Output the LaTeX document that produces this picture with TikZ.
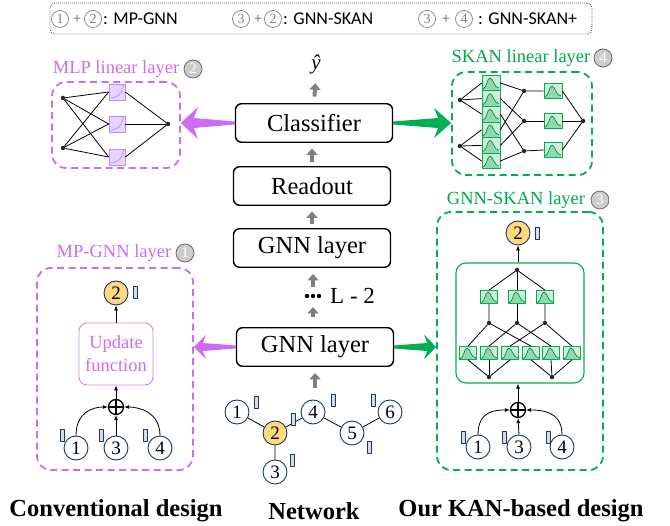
\documentclass[tikz,border=0pt]{standalone}
\usepackage{fontspec}
\setmainfont{Liberation Serif}
\newfontfamily\legfont{Carlito}
\usetikzlibrary{arrows.meta,calc}
\definecolor{mpurple}{HTML}{CC6CF5}
\definecolor{mlav}{HTML}{E6D6FF}
\definecolor{mlavline}{HTML}{C58AF2}
\definecolor{kgreen}{HTML}{00B050}
\definecolor{ktext}{HTML}{00A84F}
\definecolor{kfill}{HTML}{CDEFD9}
\definecolor{kcurve}{HTML}{8ED9AE}
\definecolor{navy}{HTML}{203864}
\definecolor{nodeyel}{HTML}{FFD980}
\definecolor{barfill}{HTML}{D6DCE5}
\definecolor{garrow}{HTML}{7F7F7F}
\newcommand\pp[1]{([shift={(#1)}]path picture bounding box.center)}
\newcommand\fatarrow[8]{%
  \coordinate (fah) at ($(#3)!#4!(#2)$);
  \coordinate (fan) at ($(#3)!#6!(#2)$);
  \fill[#1] (#3) -- ($(fah)!#5!90:(#3)$) -- ($(fan)!#7!90:(#3)$)
    -- ($(#2)!#8!90:(#3)$) -- ($(#2)!#8!-90:(#3)$)
    -- ($(fan)!#7!-90:(#3)$) -- ($(fah)!#5!-90:(#3)$) -- cycle;}
\begin{document}
\begin{tikzpicture}[x=1pt,y=-1pt,line join=round,
  blk/.style={draw, line width=1.4pt, rounded corners=6pt, minimum width=157pt, minimum height=38.5pt, inner sep=0, font=\fontsize{24.5}{28}\selectfont},
  garr/.style={draw=garrow, line width=4pt, -{Triangle[length=6.5pt,width=11pt]}},
  dpurple/.style={draw=mpurple, dash pattern=on 7pt off 4.5pt, line width=1.8pt, rounded corners=14pt, inner sep=0},
  dgreen/.style={draw=kgreen, dash pattern=on 7pt off 4.5pt, line width=1.8pt, rounded corners=14pt, inner sep=0},
  ttl/.style={inner sep=0, font=\fontsize{18.5}{20}\selectfont},
  badge/.style={circle, draw=gray!85!black, fill=gray!40, line width=0.8pt, minimum size=18pt, inner sep=0, text=white, font=\fontsize{15}{15}\selectfont},
  lc/.style={circle, draw=gray, line width=0.7pt, minimum size=17pt, inner sep=0, text=gray, font=\fontsize{14}{14}\selectfont},
  dot/.style={circle, fill=black!85, minimum size=4.5pt, inner sep=0},
  gn/.style={circle, draw=navy, fill=white, line width=0.9pt, minimum size=24pt, inner sep=0, font=\fontsize{19}{19}\selectfont},
  yn/.style={gn, fill=nodeyel},
  bar/.style={rectangle, draw=navy, fill=barfill, line width=0.7pt, minimum width=4pt, minimum height=12pt, inner sep=0},
  edge/.style={line width=0.8pt},
  sarr/.style={line width=0.8pt, -{Latex[length=5pt,width=4pt]}},
  oplus/.style={circle, draw, line width=1.3pt, minimum size=15pt, inner sep=0,
     path picture={\draw[line width=1.3pt] (path picture bounding box.north) -- (path picture bounding box.south) (path picture bounding box.west) -- (path picture bounding box.east);}},
  mbox/.style={rectangle, draw=mlavline, fill=mlav, line width=0.7pt, minimum size=16pt, inner sep=0,
     path picture={\draw[mlavline, line width=0.7pt] \pp{-8,6} .. controls \pp{1,6} and \pp{4,3} .. \pp{7,-8};}},
  kbox/.style 2 args={rectangle, draw=kgreen, fill=kfill, line width=0.7pt, minimum width=#1, minimum height=#2, inner sep=0,
     path picture={\fill[kcurve] \pp{-8,6} .. controls \pp{-4,5} and \pp{-4,-5} .. \pp{-1,-5} .. controls \pp{2,-5} and \pp{3,5} .. \pp{8,5} -- \pp{8,9} -- \pp{-8,9} -- cycle;
       \draw[kgreen!70!black, line width=0.6pt] \pp{-8,6} .. controls \pp{-4,5} and \pp{-4,-5} .. \pp{-1,-5} .. controls \pp{2,-5} and \pp{3,5} .. \pp{8,5};}},
]
\useasboundingbox (0,0) rectangle (670,526);
% ---------------- legend
\node[draw=gray!60!black, dash pattern=on 0.8pt off 1.2pt, line width=0.9pt, rounded corners=5pt, minimum width=542pt, minimum height=31pt, inner sep=0] (legend) at (321,18.5) {};
\node[lc] (la1) at (60,19) {1};
\node[text=gray, inner sep=0, font=\legfont\fontsize{15}{15}\selectfont] (lp1) at (77,19) {+};
\node[lc] (la2) at (93,19) {2};
\node[anchor=west, inner sep=0, font=\legfont\fontsize{18}{18}\selectfont] (lt1) at (103,19) {: MP-GNN};
\node[lc] (lb1) at (241,19) {3};
\node[text=gray, inner sep=0, font=\legfont\fontsize{15}{15}\selectfont] (lp2) at (258,19) {+};
\node[lc] (lb2) at (273,19) {2};
\node[anchor=west, inner sep=0, font=\legfont\fontsize{18}{18}\selectfont] (lt2) at (283,19) {: GNN-SKAN};
\node[lc] (lc1) at (427,19) {3};
\node[text=gray, inner sep=0, font=\legfont\fontsize{15}{15}\selectfont] (lp3) at (446,19) {+};
\node[lc] (lc2) at (464,19) {4};
\node[anchor=west, inner sep=0, font=\legfont\fontsize{18}{18}\selectfont] (lt3) at (478,19) {: GNN-SKAN+};
% ---------------- central column
\node[font=\itshape\fontsize{21}{21}\selectfont, inner sep=0, anchor=base] (yhat) at (316,70) {ŷ};
\node[blk] (cls) at (314,123) {Classifier};
\node[blk] (ro) at (312,186) {Readout};
\node[blk] (gnn2) at (312,248) {GNN layer};
\node[blk] (gnn1) at (315,347) {GNN layer};
\coordinate (dotsC) at (313,296);
\fill (307,296) circle (2.2pt) (313,296) circle (2.2pt) (319,296) circle (2.2pt);
\node[anchor=west, inner sep=0, font=\fontsize{23}{23}\selectfont] (lm2) at (330,296) {L - 2};
\draw[garr, shorten <=6.5pt, shorten >=8.5pt] (cls.north) -- (yhat.south);
\draw[garr, shorten <=4.5pt, shorten >=5.5pt] (ro.north) -- (ro.north |- cls.south);
\draw[garr, shorten <=4.5pt, shorten >=5.5pt] (gnn2.north) -- (gnn2.north |- ro.south);
\draw[garr, shorten <=9pt, shorten >=6pt] (dotsC) -- (dotsC |- gnn2.south);
\draw[garr, shorten <=10pt, shorten >=11pt] (dotsC |- gnn1.north) -- (dotsC);
\coordinate (netC) at (315,395);
\draw[garr, shorten <=7pt, shorten >=6pt] (netC) -- (netC |- gnn1.south);
% ---------------- network
\node[gn] (n1) at (237,412) {1};
\node[yn] (n2) at (275,433) {2};
\node[gn] (n4) at (313,412) {4};
\node[gn] (n5) at (352,433) {5};
\node[gn] (n6) at (390,412) {6};
\node[gn] (n3) at (275,472) {3};
\draw[edge] (n1) -- (n2) (n2) -- (n4) (n4) -- (n5) (n5) -- (n6) (n2) -- (n3);
\node[bar] (b1) at (256,402) {};
\node[bar] (b2) at (293,419) {};
\node[bar] (b4) at (333,400) {};
\node[bar] (b5) at (369,447) {};
\node[bar] (b6) at (373,400) {};
\node[bar] (b3) at (292,460) {};
% ---------------- MLP linear layer
\node[dpurple, minimum width=128pt, minimum height=86pt] (mlp) at (116,125) {};
\node[ttl, text=mpurple] (mlpt) at (116,69) {MLP linear layer};
\node[badge] (mlpb) at (193,69) {2};
\node[dot] (mi1) at (63,98) {};
\node[dot] (mi2) at (63,148) {};
\node[mbox] (mb1) at (117,92) {};
\node[mbox] (mb2) at (117,124) {};
\node[mbox] (mb3) at (117,157) {};
\node[dot] (mo) at (168,124) {};
\foreach \i in {1,2} \foreach \j in {1,2,3} \draw[edge] (mi\i) -- (mb\j.west);
\foreach \j in {1,2,3} \draw[edge] (mb\j.east) -- (mo);
% ---------------- SKAN linear layer
\node[dgreen, minimum width=140pt, minimum height=103pt] (skan) at (522,123.5) {};
\node[ttl, text=ktext] (skant) at (521,58) {SKAN linear layer};
\node[badge] (skanb) at (603,58) {4};
\node[dot] (si1) at (460,100) {};
\node[dot] (si2) at (460,146) {};
\foreach \i/\y in {1/83,2/98.6,3/114.2,4/129.8,5/145.4,6/161} \node[kbox={18pt}{15.6pt}] (sa\i) at (491,\y) {};
\node[dot] (sm1) at (524,91) {};
\node[dot] (sm2) at (524,121) {};
\node[dot] (sm3) at (524,151) {};
\node[kbox={18pt}{15pt}] (sc1) at (553,91) {};
\node[kbox={18pt}{15pt}] (sc2) at (553,121) {};
\node[kbox={18pt}{15pt}] (sc3) at (553,150) {};
\node[dot] (so) at (583,121) {};
\foreach \j in {1,2,3} \draw[edge] (si1) -- (sa\j.west);
\foreach \j in {4,5,6} \draw[edge] (si2) -- (sa\j.west);
\draw[edge] (sa1.east) -- (sm1) (sa2.east) -- (sm2) (sa3.east) -- (sm3)
            (sa4.east) -- (sm1) (sa5.east) -- (sm2) (sa6.east) -- (sm3);
\foreach \j in {1,2,3} \draw[edge] (sm\j) -- (sc\j.west) (sc\j.east) -- (so);
% ---------------- MP-GNN layer
\node[dpurple, minimum width=156pt, minimum height=202pt] (mpgnn) at (115,369) {};
\node[ttl, text=mpurple] (mpgnnt) at (114,253) {MP-GNN layer};
\node[badge] (mpgnnb) at (185,253) {1};
\node[yn] (m2) at (116,293) {2};
\node[bar] (mb2bar) at (135,292) {};
\node[draw=mlavline, line width=0.9pt, rounded corners=8pt, minimum width=74pt, minimum height=62pt, inner sep=0, align=center, text=mpurple, font=\fontsize{18.5}{23}\selectfont] (upd) at (116,354) {Update\\function};
\node[oplus] (mplus) at (116,407) {};
\node[gn] (m1) at (76,448) {1};
\node[gn] (m3) at (116,448) {3};
\node[gn] (m4) at (160,448) {4};
\node[bar] (mbar1) at (62,435) {};
\node[bar] (mbar3) at (101,435) {};
\node[bar] (mbar4) at (145,435) {};
\draw[sarr] (upd.north) -- (m2.south);
\draw[sarr] (mplus.north) -- (upd.south);
\draw[sarr] (m3.north) -- (mplus.south);
\draw[sarr] (m1.north) .. controls +(0,-24) and +(-14,0) .. (mplus.west);
\draw[sarr] (m4.north) .. controls +(0,-24) and +(14,0) .. (mplus.east);
% ---------------- GNN-SKAN layer
\node[dgreen, minimum width=166pt, minimum height=258pt] (gskan) at (520,341) {};
\node[ttl, text=ktext] (gskant) at (516,200) {GNN-SKAN layer};
\node[badge] (gskanb) at (600,200) {3};
\node[yn] (g2) at (518,233) {2};
\node[bar] (gbar2) at (537,233) {};
\node[draw=kgreen, line width=1.1pt, rounded corners=10pt, minimum width=128pt, minimum height=120pt, inner sep=0] (gin) at (520,323) {};
\node[dot] (gt) at (517,270) {};
\foreach \i/\x in {1/489,2/517,3/545} {
  \node[kbox={17pt}{13pt}] (gu\i) at (\x,297) {};
  \node[dot] (gm\i) at (\x,323) {};
}
\foreach \i/\x in {1/468,2/489,3/510,4/531,5/551,6/572} \node[kbox={17pt}{13pt}] (gl\i) at (\x,353) {};
\node[dot] (gb1) at (489,377) {};
\node[dot] (gb2) at (552,377) {};
\foreach \j in {1,2,3} \draw[edge] (gb1) -- (gl\j.south);
\foreach \j in {4,5,6} \draw[edge] (gb2) -- (gl\j.south);
\draw[edge] (gl1.north) -- (gm1) (gl2.north) -- (gm2) (gl3.north) -- (gm3)
            (gl4.north) -- (gm1) (gl5.north) -- (gm2) (gl6.north) -- (gm3);
\foreach \j in {1,2,3} \draw[edge] (gm\j) -- (gu\j.south) (gu\j.north) -- (gt);
\node[oplus] (gplus) at (518,410) {};
\node[gn] (gg1) at (478,447) {1};
\node[gn] (gg3) at (519,447) {3};
\node[gn] (gg4) at (562,447) {4};
\node[bar] (gbar1) at (463,437) {};
\node[bar] (gbar3) at (504,437) {};
\node[bar] (gbar4) at (548,437) {};
\draw[sarr] (gin.north -| g2) -- (g2.south);
\draw[sarr] (gplus.north) -- (gin.south -| gplus);
\draw[sarr] (gg3.north) -- (gplus.south);
\draw[sarr] (gg1.north) .. controls +(0,-24) and +(-14,0) .. (gplus.west);
\draw[sarr] (gg4.north) .. controls +(0,-24) and +(14,0) .. (gplus.east);
% ---------------- fat arrows
\coordinate (mlpT) at (mlp.east |- cls.west);
\fatarrow{mpurple}{cls.west}{mlpT}{17pt}{16pt}{13pt}{5pt}{1.5pt}
\coordinate (skanT) at (skan.west |- cls.east);
\fatarrow{kgreen}{cls.east}{skanT}{17pt}{15pt}{13pt}{5pt}{1.5pt}
\coordinate (mpT) at (mpgnn.east |- gnn1.west);
\fatarrow{mpurple}{gnn1.west}{mpT}{12pt}{12pt}{9pt}{4pt}{1.5pt}
\coordinate (gT) at (gskan.west |- gnn1.east);
\fatarrow{kgreen}{gnn1.east}{gT}{12pt}{12.5pt}{9pt}{4pt}{1.5pt}
% ---------------- bottom labels
\node[font=\bfseries\fontsize{24.5}{26}\selectfont] (lab1) at (116,511) {Conventional design};
\node[font=\bfseries\fontsize{24.5}{26}\selectfont] (lab2) at (314,511) {Network};
\node[font=\bfseries\fontsize{24.5}{26}\selectfont] (lab3) at (521,511) {Our KAN-based design};
\end{tikzpicture}
\end{document}
